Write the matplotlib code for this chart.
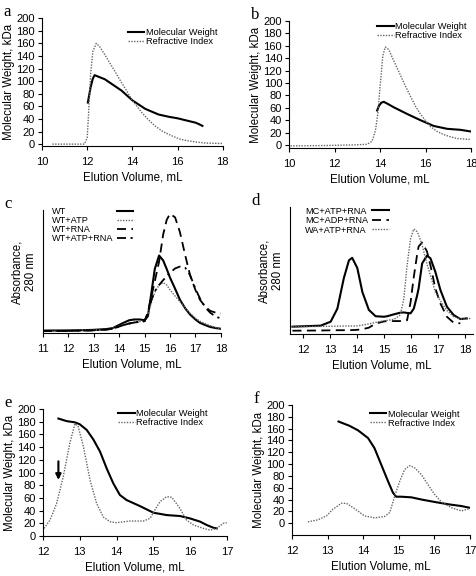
import numpy as np
import matplotlib.pyplot as plt

plt.rcParams['font.family'] = ['Liberation Sans', 'DejaVu Sans']

# panel a
a_mw_x = [12.03, 12.15, 12.25, 12.33, 12.5, 12.78, 13.15, 13.52, 14.0, 14.57, 15.16, 15.6, 16.0, 16.4, 16.8, 16.96, 17.1]
a_mw_y = [66, 90, 104, 109.5, 107, 103, 94, 85, 69.5, 56, 47, 43.5, 41, 37.5, 34, 31.5, 29]
a_ri_x = [10.46, 11.88, 12.0, 12.06, 12.15, 12.25, 12.4, 12.55, 12.78, 13.0, 13.22, 13.45, 13.67, 14.0, 14.42, 14.7,
          15.0, 15.35, 15.76, 16.1, 16.5, 16.9, 17.25, 18.0]
a_ri_y = [0, 0, 10, 47, 110, 147, 160, 155, 142, 129, 116, 102, 89, 69.5, 50, 39, 29, 20, 13, 8, 5, 3, 1.6, 1]

# panel b
b_mw_x = [13.87, 13.95, 14.05, 14.16, 14.3, 14.6, 15.19, 15.77, 16.36, 16.95, 17.53, 17.97]
b_mw_y = [55.6, 63, 68, 69.6, 67, 60.8, 50, 40, 30.6, 26, 24.4, 21.8]
b_ri_x = [10.06, 11.5, 12.8, 13.43, 13.65, 13.8, 13.9, 14.02, 14.12, 14.23, 14.38, 14.6, 14.89, 15.1, 15.33, 15.55,
          15.77, 16.0, 16.21, 16.5, 16.8, 17.1, 17.38, 17.97]
b_ri_y = [-1.6, -1, 0, 1, 6, 24, 50, 102, 144, 158, 154, 136, 113, 96, 79, 63, 50, 39, 29.6, 22, 16.6, 13, 10.4, 8.8]

# panel c (absorbance, arbitrary units)
c_x = [11.0, 12.0, 12.96, 13.5, 13.75, 14.14, 14.4, 14.6, 14.8, 15.0, 15.13, 15.27, 15.4, 15.57, 15.73, 15.87, 16.0,
       16.2, 16.39, 16.6, 16.79, 17.0, 17.18, 17.4, 17.58, 17.8, 18.04]
c_wt = [1.9, 2.1, 2.5, 3.2, 4, 8, 10.4, 11, 11, 10.4, 13.7, 33, 52, 63, 59, 52, 45, 36, 27, 20, 15, 11, 8.2, 6.3, 4.9,
        4, 3.3]
c_wt_atp = [2.5, 2.5, 2.7, 3.2, 4, 6.5, 8, 8.8, 9.3, 9.6, 15, 25, 33, 39, 41, 39, 35, 30, 25.5, 20.5, 16, 12, 9.5,
            7.5, 6, 4.5, 3.3]
c_wt_rna = [1.5, 1.7, 2.1, 2.8, 3.5, 6.2, 7.7, 8.5, 9.1, 9.6, 17, 30, 42, 58, 80, 92, 97, 94, 82, 63, 47, 35, 27,
            21, 18, 16.5, 15.9]
c_wt_atp_rna = [1.5, 1.7, 2.1, 2.8, 3.5, 6.2, 7.7, 8.5, 9.1, 9.6, 16, 27, 34, 39, 43, 46, 49, 52.5, 54, 53, 47, 36,
                28, 20.5, 16.5, 13.3, 11.5]

# panel d
d_x = [11.59, 12.64, 13.01, 13.26, 13.5, 13.69, 13.81, 14.0, 14.19, 14.43, 14.68, 14.99, 15.11, 15.36, 15.6, 15.73,
       15.85, 15.98, 16.1, 16.22, 16.28, 16.41, 16.59, 16.72, 16.9, 17.09, 17.33, 17.58, 17.83, 18.07, 18.2]
d_mc_atp = [5.8, 6.6, 9.7, 20, 44, 58, 60, 52, 33, 19, 14, 13.6, 14, 15.5, 16.8, 17, 16.6, 16.3, 20, 30, 36, 55.6,
            61.7, 59.6, 49, 34.6, 21.5, 15, 11.8, 12.3, None]
d_mc_adp = [2.6, 2.8, 2.9, 3.0, 3.0, 3.1, 3.1, 3.3, 3.8, 5, 8.2, 9.9, 10.2, 10.2, 10.2, 10.2, 10.8, 25, 45, 62, 69,
            72, 65, 54, 36, 24, 13.6, 8.9, 8.4, None, None]
d_wa_atp = [5.8, 6.0, 6.1, 6.2, 6.3, 6.3, 6.3, 6.4, 7.0, 8.0, 9.2, 10.4, 10.8, 11.5, 15, 28, 54, 75, 82.7, 80.6, 78,
            70, 55, 46, 33, 26, 18.5, 13.6, 12, 11.8, 12.3]

# panel e
e_mw_x = [12.42, 12.64, 12.87, 13.0, 13.19, 13.37, 13.55, 13.73, 13.91, 14.09, 14.27, 14.64, 15.0, 15.36, 15.72,
          15.99, 16.27, 16.45, 16.63, 16.72]
e_mw_y = [185, 181, 179, 176, 167, 152, 133, 106.6, 83, 64.6, 56.7, 47, 36.7, 33, 31.5, 27.8, 22.6, 17.3, 13, 12]
e_ri_x = [12.03, 12.19, 12.37, 12.55, 12.73, 12.87, 12.96, 13.1, 13.28, 13.46, 13.64, 13.82, 14.0, 14.36, 14.73,
          14.91, 15.04, 15.18, 15.36, 15.5, 15.72, 15.9, 16.09, 16.36, 16.54, 16.72, 16.9, 16.99]
e_ri_y = [12, 25, 51, 93, 146, 177, 172, 140.7, 88, 51, 30, 22.6, 21, 23.6, 23.6, 27.8, 41, 54, 62, 61, 43.6, 25,
          17.3, 12, 9.4, 12, 20, 21]
e_arrow_x = 12.42
e_arrow_y = [122, 84]

# panel f
f_mw_x = [13.31, 13.62, 13.86, 14.14, 14.32, 14.51, 14.7, 14.84, 14.93, 15.07, 15.36, 15.64, 16.01, 16.39, 16.76, 17.0]
f_mw_y = [172, 164.7, 157, 144, 127, 99, 71, 51.5, 44.8, 44.8, 43.7, 40, 35.9, 32, 29, 26]
f_ri_x = [12.45, 12.73, 12.97, 13.15, 13.39, 13.53, 13.76, 14.04, 14.32, 14.6, 14.75, 14.89, 15.03, 15.17, 15.31,
          15.45, 15.64, 15.82, 16.01, 16.2, 16.48, 16.76, 17.0]
f_ri_y = [2.2, 5.6, 12.3, 23.5, 33.6, 33.6, 24.6, 12.3, 9, 11.2, 18, 46, 71, 91, 97.5, 93.6, 82, 65.5, 48.7, 35.9,
          26.3, 20.7, 24.6]

DOT = dict(color='0.4', lw=1.0, ls=(0, (1, 1)))
SOLID = dict(color='black', lw=1.5)
DASH = dict(color='black', lw=1.3, ls=(0, (5, 3)))
DASHDOT = dict(color='black', lw=1.3, ls=(0, (5, 2.5, 1.2, 2.5)))

fig = plt.figure(figsize=(4.77, 5.76), dpi=100)


def style_axes(ax):
    ax.spines['top'].set_visible(False)
    ax.spines['right'].set_visible(False)
    ax.tick_params(labelsize=8, length=3, width=0.8)
    ax.tick_params(axis='x', pad=5)
    ax.tick_params(axis='y', pad=2)
    ax.set_xlabel('Elution Volume, mL', fontsize=8.3, labelpad=3)


def add_letter(rect, letter):
    fig.text(rect[0] - 0.08, rect[1] + rect[3] + 0.01, letter, family='Liberation Serif', fontsize=12,
             va='center', ha='left')


def mw_panel(rect, letter, mw_x, mw_y, ri_x, ri_y, xlim, ylim, xticks, legend_anchor):
    ax = fig.add_axes(rect)
    ax.plot(mw_x, mw_y, label='Molecular Weight', solid_joinstyle='round', **SOLID)
    ax.plot(ri_x, ri_y, label='Refractive Index', **DOT)
    ax.set_xlim(*xlim)
    ax.set_ylim(*ylim)
    ax.set_xticks(xticks)
    ax.set_yticks(range(0, 201, 20))
    style_axes(ax)
    ax.set_ylabel('Molecular Weight, kDa', fontsize=8.3, labelpad=1)
    ax.legend(loc='upper right', bbox_to_anchor=legend_anchor, frameon=False, fontsize=6.7,
              handlelength=1.8, handletextpad=0.15, labelspacing=0.0, borderaxespad=0, borderpad=0)
    add_letter(rect, letter)
    return ax


ax_a = mw_panel([0.088, 0.7465, 0.379, 0.222], 'a', a_mw_x, a_mw_y, a_ri_x, a_ri_y,
                (10, 18), (-3, 200), range(10, 19, 2), (0.97, 0.92))
ax_b = mw_panel([0.606, 0.743, 0.3816, 0.2205], 'b', b_mw_x, b_mw_y, b_ri_x, b_ri_y,
                (10, 18), (-5, 200), range(10, 19, 2), (0.975, 0.99))
ax_e = mw_panel([0.090, 0.0694, 0.386, 0.2205], 'e', e_mw_x, e_mw_y, e_ri_x, e_ri_y,
                (12, 17), (0, 200), range(12, 18), (0.895, 1.0))
ax_f = mw_panel([0.612, 0.0712, 0.373, 0.2257], 'f', f_mw_x, f_mw_y, f_ri_x, f_ri_y,
                (12, 17), (-20, 200), range(12, 18), (0.94, 0.965))
ax_e.annotate('', xy=(e_arrow_x, e_arrow_y[1]), xytext=(e_arrow_x, e_arrow_y[0]),
              arrowprops=dict(arrowstyle='-|>', color='black', lw=1.5, mutation_scale=8))


def abs_panel(rect, letter, x, series, xlim, xticks, leg_x, leg_y, leg_dy, handle_x):
    ax = fig.add_axes(rect)
    for i, (label, y, st) in enumerate(series):
        ax.plot(x, y, **st)
        # legend drawn by hand: text left aligned, sample line in its own column on the right
        ty = leg_y - i * leg_dy
        ax.text(leg_x, ty, label, transform=ax.transAxes, fontsize=6.6, va='center', ha='left')
        ax.plot(handle_x, [ty + 0.01, ty + 0.01], transform=ax.transAxes, clip_on=False, **st)
    ax.set_xlim(*xlim)
    ax.set_ylim(0, 100)
    ax.set_xticks(xticks)
    ax.set_yticks([])
    style_axes(ax)
    ax.set_ylabel('Absorbance,\n280 nm', fontsize=8.3, labelpad=4)
    add_letter(rect, letter)
    return ax


ax_c = abs_panel([0.090, 0.4219, 0.373, 0.2135], 'c', c_x,
                 [('WT', c_wt, SOLID), ('WT+ATP', c_wt_atp, DOT),
                  ('WT+RNA', c_wt_rna, DASH), ('WT+ATP+RNA', c_wt_atp_rna, DASHDOT)],
                 (11, 18), range(11, 19), 0.05, 0.985, 0.073, [0.415, 0.505])
ax_d = abs_panel([0.608, 0.4201, 0.3836, 0.2205], 'd', d_x,
                 [('MC+ATP+RNA', np.array(d_mc_atp, dtype=float), SOLID),
                  ('MC+ADP+RNA', np.array(d_mc_adp, dtype=float), DASH),
                  ('WA+ATP+RNA', d_wa_atp, DOT)],
                 (11.5, 18.3), range(12, 19), 0.082, 0.965, 0.075, [0.448, 0.541])

fig.savefig('out.png', dpi=100)
